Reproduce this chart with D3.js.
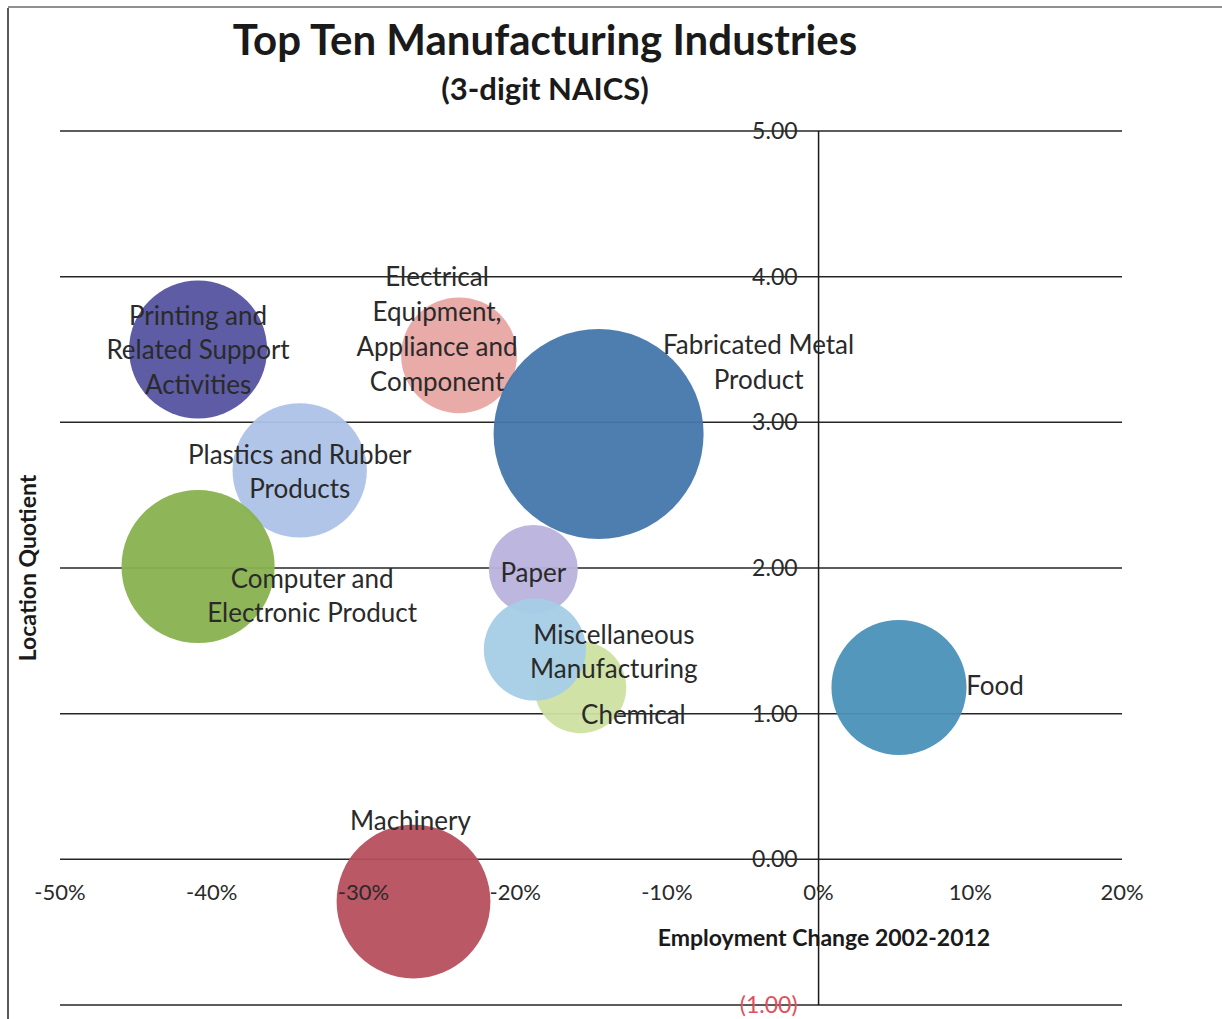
<!DOCTYPE html>
<html>
<head>
<meta charset="utf-8">
<script src="https://cdn.jsdelivr.net/npm/d3@7/dist/d3.min.js"></script>
<style>
  html, body { margin: 0; padding: 0; background: #fff; }
  svg { display: block; }
  text { font-family: Lato, "Open Sans", sans-serif; fill: #262626; }
</style>
</head>
<body>
<svg id="chart" width="1222" height="1019"></svg>
<script>
// Industries (3-digit NAICS)
const industries = [
  "Printing and Related Support Activities",
  "Electrical Equipment, Appliance and Component",
  "Fabricated Metal Product",
  "Plastics and Rubber Products",
  "Computer and Electronic Product",
  "Paper",
  "Chemical",
  "Miscellaneous Manufacturing",
  "Food",
  "Machinery"
];
// Employment change 2002-2012 (%)
const employmentChange = [-40.9, -23.7, -14.5, -34.2, -40.9, -18.8, -15.7, -18.7, 5.3, -26.7];
// Location quotient
const locationQuotient = [3.50, 3.46, 2.92, 2.67, 2.01, 1.99, 1.18, 1.44, 1.18, -0.29];
// Employment (bubble size)
const employment = [4750, 3350, 11000, 4500, 5850, 1980, 2100, 2600, 4550, 5900];

// Axis ticks
const xTicks = [-50, -40, -30, -20, -10, 0, 10, 20];
const yTicks = [5, 4, 3, 2, 1, 0, -1];
const yTickLabels = ["5.00", "4.00", "3.00", "2.00", "1.00", "0.00", "(1.00)"];

// Styling and label layout
const colors = ["#5553a0", "#e8a6a3", "#4577ab", "#adc2e8", "#88b24f", "#b9b2dc", "#cde0a1", "#a5cee6", "#4a91b9", "#b74f5e"];
const labelLines = {
  "Printing and Related Support Activities": ["Printing and", "Related Support", "Activities"],
  "Electrical Equipment, Appliance and Component": ["Electrical", "Equipment,", "Appliance and", "Component"],
  "Fabricated Metal Product": ["Fabricated Metal", "Product"],
  "Plastics and Rubber Products": ["Plastics and Rubber", "Products"],
  "Computer and Electronic Product": ["Computer and", "Electronic Product"],
  "Paper": ["Paper"],
  "Chemical": ["Chemical"],
  "Miscellaneous Manufacturing": ["Miscellaneous", "Manufacturing"],
  "Food": ["Food"],
  "Machinery": ["Machinery"]
};
// label offset (px) from bubble centre to the centre of the first line
const labelOffset = {
  "Printing and Related Support Activities": [0, -34],
  "Electrical Equipment, Appliance and Component": [-22, -78],
  "Fabricated Metal Product": [160, -89],
  "Plastics and Rubber Products": [0, -16],
  "Computer and Electronic Product": [114, 12],
  "Paper": [0, 3],
  "Chemical": [53, 27],
  "Miscellaneous Manufacturing": [79, -15],
  "Food": [96, -2],
  "Machinery": [-3, -81]
};

const svg = d3.select("#chart");

const x = d3.scaleLinear().domain([-50, 20]).range([60, 1122]);
const y = d3.scaleLinear().domain([-1, 5]).range([1005, 131]);
const r = d3.scaleSqrt().domain([0, d3.max(employment)]).range([0, 105]);

// frame lines
svg.append("line").attr("x1", 8).attr("x2", 8).attr("y1", 8).attr("y2", 1019)
  .attr("stroke", "#222").attr("stroke-width", 1.5);
svg.append("line").attr("x1", 8).attr("x2", 1222).attr("y1", 7).attr("y2", 7)
  .attr("stroke", "#222").attr("stroke-width", 1.2);

// titles
svg.append("text").attr("x", 545).attr("y", 55).attr("text-anchor", "middle")
  .style("font-size", "42px").style("font-weight", "bold").style("fill", "#1a1a1a")
  .text("Top Ten Manufacturing Industries");
svg.append("text").attr("x", 545).attr("y", 100).attr("text-anchor", "middle")
  .style("font-size", "31px").style("font-weight", "bold").style("fill", "#1a1a1a")
  .text("(3-digit NAICS)");

// horizontal gridlines
svg.append("g").selectAll("line").data(yTicks).join("line")
  .attr("x1", x(-50)).attr("x2", x(20))
  .attr("y1", d => y(d)).attr("y2", d => y(d))
  .attr("stroke", "#262626").attr("stroke-width", 1.5);

// vertical axis at 0%
svg.append("line").attr("x1", x(0)).attr("x2", x(0))
  .attr("y1", y(5)).attr("y2", y(-1))
  .attr("stroke", "#1a1a1a").attr("stroke-width", 1.5);

// bubbles
const data = industries.map((name, i) => ({
  name, xv: employmentChange[i], yv: locationQuotient[i], size: employment[i], color: colors[i]
}));

svg.append("g").selectAll("circle").data(data).join("circle")
  .attr("cx", d => x(d.xv)).attr("cy", d => y(d.yv)).attr("r", d => r(d.size))
  .attr("fill", d => d.color).attr("fill-opacity", 0.95);

// y tick labels
svg.append("g").selectAll("text").data(yTicks).join("text")
  .attr("x", x(0) - 21).attr("y", d => y(d)).attr("dy", "0.35em")
  .attr("text-anchor", "end")
  .style("font-size", "23px")
  .style("fill", d => d < 0 ? "#e0505c" : "#2a2a2a")
  .text((d, i) => yTickLabels[i]);

// x tick labels
svg.append("g").selectAll("text").data(xTicks).join("text")
  .attr("x", d => x(d)).attr("y", y(0) + 33).attr("dy", "0.35em")
  .attr("text-anchor", "middle")
  .style("font-size", "22px").style("fill", "#2a2a2a")
  .text(d => d + "%");

// axis titles
svg.append("text").attr("x", 824).attr("y", 946).attr("text-anchor", "middle")
  .style("font-size", "23px").style("font-weight", "bold").style("fill", "#1a1a1a")
  .text("Employment Change 2002-2012");
svg.append("text").attr("transform", "translate(36,568) rotate(-90)")
  .attr("text-anchor", "middle")
  .style("font-size", "23px").style("font-weight", "bold").style("fill", "#1a1a1a")
  .text("Location Quotient");

// data labels
const labels = svg.append("g").selectAll("text").data(data).join("text")
  .attr("text-anchor", "middle")
  .style("font-size", "26px").style("fill", "#2a2a2a");
labels.each(function(d) {
  const [dx, dy] = labelOffset[d.name];
  const cx = x(d.xv) + dx, cy = y(d.yv) + dy;
  d3.select(this).selectAll("tspan").data(labelLines[d.name]).join("tspan")
    .attr("x", cx).attr("y", (t, j) => cy + j * 34.8).attr("dy", "0.35em")
    .text(t => t);
});
</script>
</body>
</html>
